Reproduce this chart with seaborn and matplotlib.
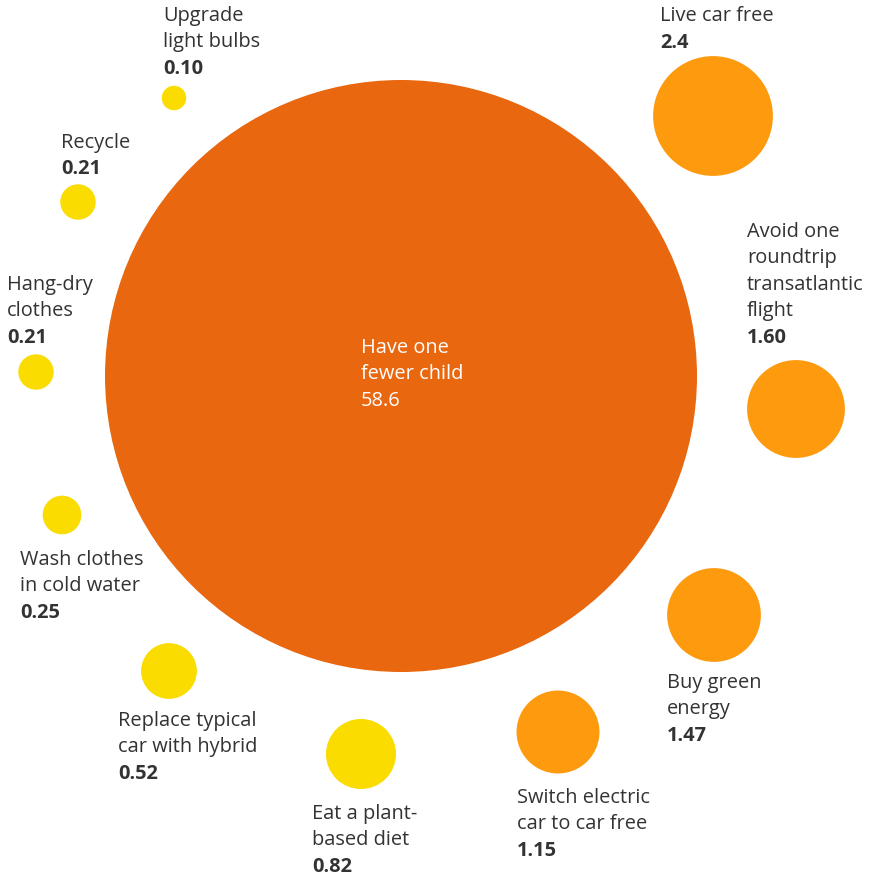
import matplotlib.pyplot as plt
import seaborn as sns
import pandas as pd

# tonnes CO2-equivalent saved per year
labels = ["Have one\nfewer child", "Live car free", "Avoid one\nroundtrip\ntransatlantic\nflight",
          "Buy green\nenergy", "Switch electric\ncar to car free", "Eat a plant-\nbased diet",
          "Replace typical\ncar with hybrid", "Wash clothes\nin cold water", "Hang-dry\nclothes",
          "Recycle", "Upgrade\nlight bulbs"]
values = [58.6, 2.4, 1.60, 1.47, 1.15, 0.82, 0.52, 0.25, 0.21, 0.21, 0.10]
value_text = ["58.6", "2.4", "1.60", "1.47", "1.15", "0.82", "0.52", "0.25", "0.21", "0.21", "0.10"]
group = ["top", "high", "high", "high", "high", "low", "low", "low", "low", "low", "low"]

# layout (pixel positions of bubble centres and label anchors)
cx = [401, 713, 796, 714, 558, 361, 169, 62, 36, 78, 174]
cy = [377, 117, 410, 616, 733, 755, 672, 516, 373, 203, 99]
lx = [361, 660, 747, 667, 517, 312, 118, 20, 7, 61, 163]
ly = [348, 16, 232, 683, 798, 814, 721, 560, 285, 143, 16]

palette = {"top": "#E8670F", "high": "#FD9A0E", "low": "#FADC00"}

df = pd.DataFrame({"label": labels, "value": values, "group": group, "x": cx, "y": cy})

plt.rcParams['font.family'] = ['Open Sans', 'DejaVu Sans']
fig = plt.figure(figsize=(8.75, 8.79), dpi=100)
ax = fig.add_axes([0, 0, 1, 1])

# bubble area proportional to value
rmax = 296 * 2 * 0.72
sns.scatterplot(data=df, x="x", y="y", hue="group", palette=palette, size="value",
                sizes=(0, rmax ** 2), size_norm=(0, 58.6), linewidth=0, legend=False,
                alpha=1, ax=ax, zorder=2)

ax.set_xlim(0, 875)
ax.set_ylim(879, 0)
ax.axis("off")

step = 26.5
for i in range(len(labels)):
    n = labels[i].count("\n") + 1
    col = "white" if i == 0 else "#333333"
    for j, line in enumerate(labels[i].split("\n")):
        ax.text(lx[i], ly[i] + j * step, line, fontsize=14.4, color=col,
                ha="left", va="center", zorder=3)
    ax.text(lx[i], ly[i] + n * step, value_text[i], fontsize=14.4, color=col,
            fontweight="normal" if i == 0 else "bold", ha="left", va="center", zorder=3)

fig.savefig("out.png", dpi=100)
